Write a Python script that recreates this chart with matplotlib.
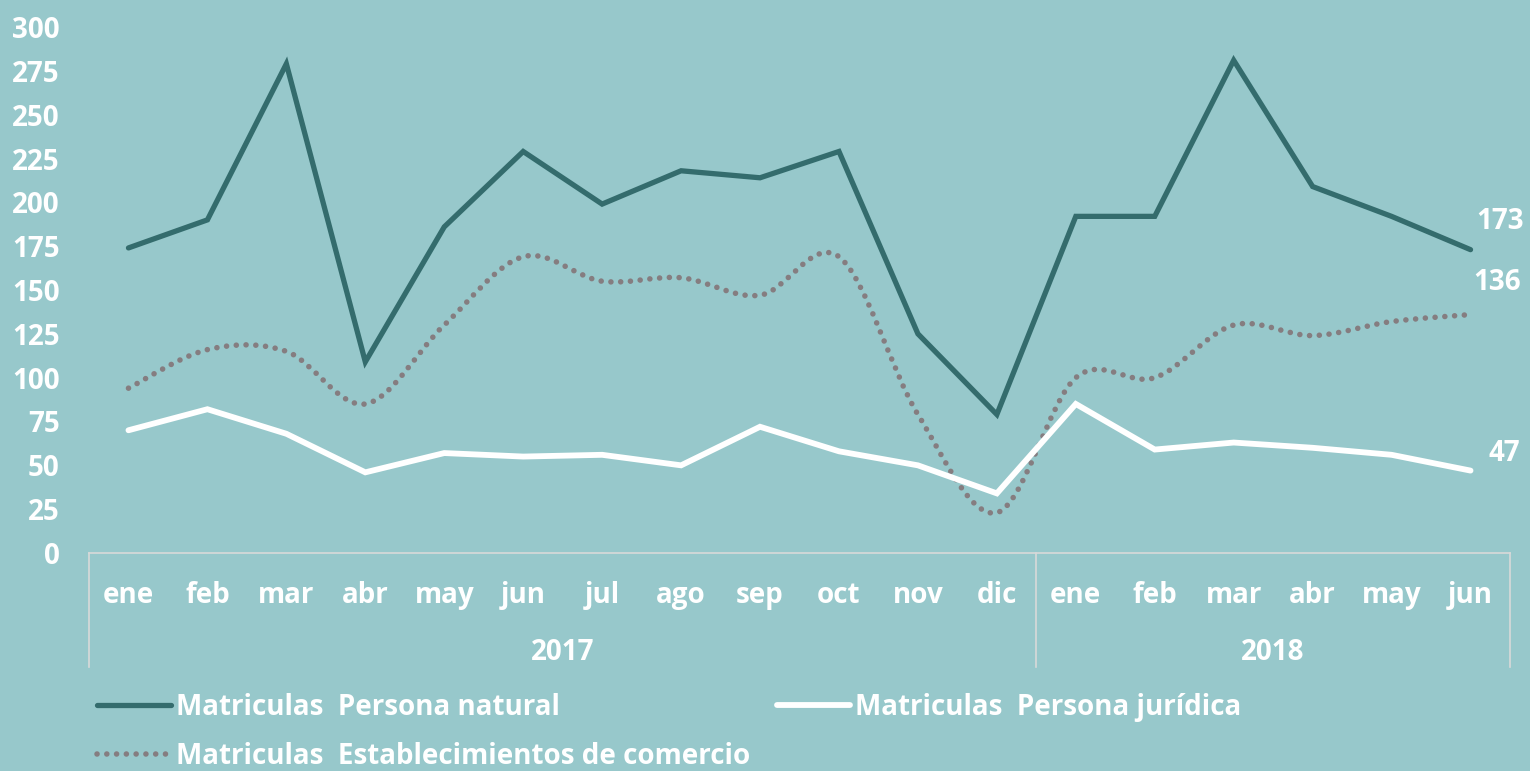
import matplotlib
matplotlib.use("Agg")
import matplotlib.pyplot as plt
import numpy as np
from matplotlib.path import Path
from matplotlib.patches import PathPatch
from matplotlib.lines import Line2D
import matplotlib.transforms as mtransforms

meses = ["ene", "feb", "mar", "abr", "may", "jun", "jul", "ago", "sep", "oct", "nov", "dic",
         "ene", "feb", "mar", "abr", "may", "jun"]
anios = ["2017", "2018"]
meses_por_anio = [12, 6]

persona_natural = [174, 190, 279, 109, 186, 229, 199, 218, 214, 229, 125, 79,
                   192, 192, 281, 209, 192, 173]
persona_juridica = [70, 82, 68, 46, 57, 55, 56, 50, 72, 58, 50, 34,
                    85, 59, 63, 60, 56, 47]
establecimientos = [94, 116, 115, 85, 130, 169, 155, 157, 147, 169, 79, 23,
                    100, 100, 130, 124, 132, 136]

nombres = ["Matriculas  Persona natural", "Matriculas  Persona jurídica",
           "Matriculas  Establecimientos de comercio"]

bg = "#97C8CB"
oscuro = "#346C6D"
gris = "#857D80"
blanco = "#FFFFFF"
borde = "#D9D9D9"

plt.rcParams["font.family"] = ["Open Sans", "DejaVu Sans"]
plt.rcParams["font.weight"] = "bold"
fs = 20

fig = plt.figure(figsize=(15.3, 7.71), dpi=100, facecolor=bg)
ax = fig.add_axes([89 / 1530, 218 / 771, 1421 / 1530, 526 / 771])
ax.set_facecolor(bg)

x = np.arange(len(meses))


def curva_suave(xs, ys):
    # bezier tipo excel (catmull-rom)
    pts = np.column_stack([xs, ys]).astype(float)
    verts = [pts[0]]
    codes = [Path.MOVETO]
    n = len(pts)
    for i in range(n - 1):
        p0 = pts[i - 1] if i > 0 else pts[i]
        p1 = pts[i]
        p2 = pts[i + 1]
        p3 = pts[i + 2] if i + 2 < n else pts[i + 1]
        c1 = p1 + (p2 - p0) / 6
        c2 = p2 - (p3 - p1) / 6
        verts += [c1, c2, p2]
        codes += [Path.CURVE4] * 3
    return Path(verts, codes)


puntos = (0, (0.01, 1.75))
patch = PathPatch(curva_suave(x, establecimientos), fill=False, edgecolor=gris,
                  linewidth=4.0, linestyle=puntos, capstyle="round")
ax.add_patch(patch)
ax.plot(x, persona_juridica, color=blanco, linewidth=4.2, solid_joinstyle="miter", solid_capstyle="round")
ax.plot(x, persona_natural, color=oscuro, linewidth=3.8, solid_joinstyle="miter", solid_capstyle="round")

ax.set_xlim(-0.5, len(meses) - 0.5)
ax.set_ylim(0, 300)
ax.set_yticks(np.arange(0, 301, 25))
ax.tick_params(axis="y", length=0, pad=21, labelsize=fs, labelcolor=blanco)
ax.set_xticks([])
for s in ["top", "right", "left"]:
    ax.spines[s].set_visible(False)
ax.spines["bottom"].set_color(borde)
ax.spines["bottom"].set_linewidth(1.2)

# etiquetas de categoria en dos niveles
trans = mtransforms.blended_transform_factory(ax.transData, ax.transAxes)
for i, m in enumerate(meses):
    ax.text(i, -0.081, m, transform=trans, ha="center", va="center", fontsize=fs, color=blanco)
inicio = -0.5
for anio, n in zip(anios, meses_por_anio):
    ax.text(inicio + n / 2, -0.19, anio, transform=trans, ha="center", va="center", fontsize=fs, color=blanco)
    ax.plot([inicio, inicio], [0, -0.2167], transform=trans, color=borde, linewidth=1.2, clip_on=False)
    inicio += n
ax.plot([inicio, inicio], [0, -0.2167], transform=trans, color=borde, linewidth=1.2, clip_on=False)

# etiquetas del ultimo valor
ultimo = len(meses) - 1
for serie, off in [(persona_natural, (21, 20)), (establecimientos, (19, 23)), (persona_juridica, (24, 12))]:
    ax.annotate(str(serie[-1]), (ultimo, serie[-1]), xytext=off, textcoords="offset points",
                ha="center", va="center", fontsize=fs, color=blanco, annotation_clip=False)

handles = [Line2D([], [], color=oscuro, linewidth=3.8, solid_capstyle="round"),
           Line2D([], [], color=gris, linewidth=4.0, linestyle=puntos, dash_capstyle="round"),
           Line2D([], [], color=blanco, linewidth=4.2, solid_capstyle="round")]
etiquetas = [nombres[0], nombres[2], nombres[1]]
fig.legend(handles, etiquetas, ncol=2, loc="upper left", bbox_to_anchor=(97 / 1530, 1 - 693 / 771),
           frameon=False, fontsize=fs, labelcolor=blanco, handlelength=2.65, handletextpad=0.18,
           columnspacing=0.97, labelspacing=0.72, borderpad=0, borderaxespad=0)

fig.savefig("out.png", dpi=100, facecolor=bg)
